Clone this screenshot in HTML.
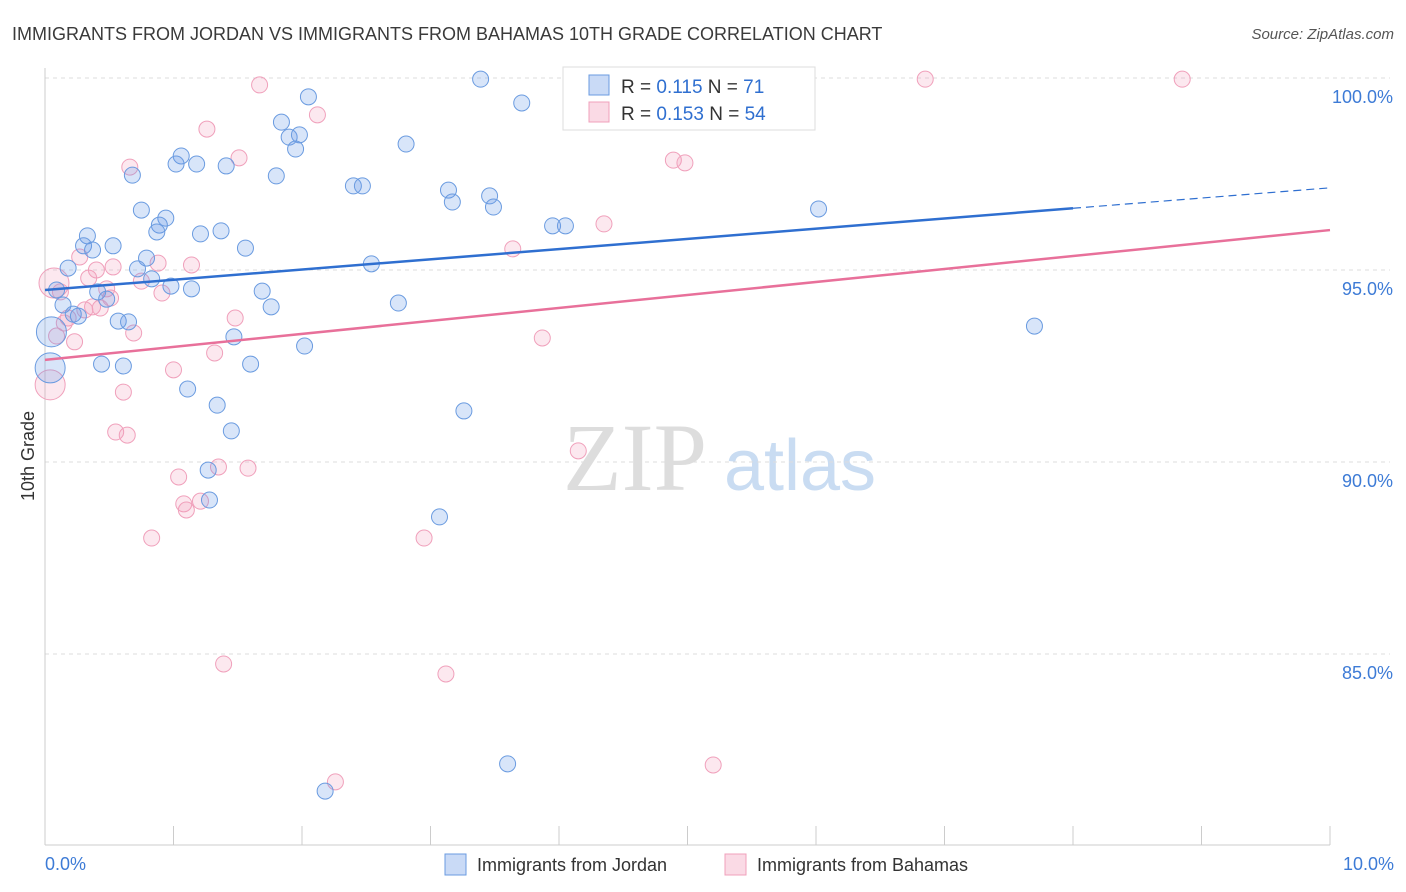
<!DOCTYPE html>
<html><head><meta charset="utf-8">
<style>
body{margin:0;background:#fff;font-family:"Liberation Sans",sans-serif;}
svg{display:block}
</style></head>
<body>
<svg id="chart" width="1406" height="892">
<text x="12" y="40" font-size="18" fill="#3a3a3a">IMMIGRANTS FROM JORDAN VS IMMIGRANTS FROM BAHAMAS 10TH GRADE CORRELATION CHART</text>
<text x="1394" y="39" font-size="15" fill="#555" text-anchor="end" font-style="italic">Source: ZipAtlas.com</text>
<text x="34" y="456" font-size="18" fill="#333" text-anchor="middle" transform="rotate(-90 34 456)">10th Grade</text>
<g>
<text x="635" y="490" font-size="96" fill="#ddd" text-anchor="middle" font-family="Liberation Serif,serif">ZIP</text>
<text x="800" y="490" font-size="72" fill="#c9dcf2" text-anchor="middle">atlas</text>
</g>
<g id="grid"></g>
<g id="pts"></g>
<g id="lines"></g>
<g>
<rect x="563" y="67" width="252" height="63" fill="#fff" stroke="#ddd"/>
<rect x="589" y="75" width="20" height="20" fill="rgba(100,150,230,0.35)" stroke="#6a9be0"/>
<rect x="589" y="102" width="20" height="20" fill="rgba(240,150,180,0.35)" stroke="#f0a0bb"/>
<text x="621" y="93" font-size="19" fill="#333">R = <tspan fill="#2f6fd0">0.115</tspan>   N = <tspan fill="#2f6fd0"> 71</tspan></text>
<text x="621" y="120" font-size="19" fill="#333">R = <tspan fill="#2f6fd0">0.153</tspan>   N = <tspan fill="#2f6fd0">54</tspan></text>
</g>
<g>
<rect x="445" y="854" width="21" height="21" fill="rgba(100,150,230,0.35)" stroke="#6a9be0"/>
<text x="477" y="871" font-size="18" fill="#333">Immigrants from Jordan</text>
<rect x="725" y="854" width="21" height="21" fill="rgba(240,150,180,0.35)" stroke="#f0a0bb"/>
<text x="757" y="871" font-size="18" fill="#333">Immigrants from Bahamas</text>
</g>
</svg>
<script>
const yTicks=[100,95,90,85];
const xTickLabels=["0.0%","10.0%"];
const blueX=[3.39,3.71,2.05,1.84,1.90,1.98,1.95,2.81,1.06,1.02,1.18,1.41,0.68,1.80,2.40,2.47,3.14,3.17,3.46,3.49,6.02,0.75,0.94,0.89,0.87,1.21,1.37,3.95,4.05,0.33,0.53,0.30,0.37,1.56,0.79,0.18,0.72,0.83,2.54,0.09,0.98,1.14,0.41,0.48,1.69,0.14,0.22,0.26,1.76,2.75,0.57,0.65,1.47,2.02,7.70,0.05,0.44,0.61,1.60,0.04,1.11,1.34,3.26,1.45,1.27,1.28,3.07,3.60,2.18];
const blueY=[99.97,99.35,99.51,98.85,98.46,98.52,98.15,98.28,97.97,97.76,97.76,97.71,97.47,97.45,97.19,97.19,97.08,96.77,96.93,96.64,96.59,96.56,96.35,96.17,95.99,95.94,96.02,96.15,96.15,95.89,95.63,95.63,95.52,95.57,95.31,95.05,95.03,94.77,95.16,94.48,94.58,94.51,94.43,94.24,94.45,94.09,93.85,93.80,94.04,94.14,93.67,93.65,93.26,93.02,93.54,93.39,92.55,92.50,92.55,92.45,91.90,91.48,91.33,90.81,89.79,89.01,88.57,82.14,81.43];
const blueBig=[55,59];
const pinkX=[1.67,6.85,8.85,2.12,1.26,1.51,0.66,4.89,4.98,4.35,3.64,0.27,0.88,1.14,0.53,0.07,0.40,0.34,0.75,0.12,0.91,0.48,0.51,0.37,0.43,0.31,0.18,0.15,1.48,0.69,0.09,0.23,3.87,1.32,1.00,0.04,0.61,0.55,0.64,4.15,1.58,1.35,1.04,1.08,1.10,1.21,0.83,2.95,1.39,3.12,5.20,2.26];
const pinkY=[99.82,99.97,99.97,99.04,98.67,97.92,97.68,97.86,97.79,96.20,95.55,95.34,95.18,95.13,95.08,94.66,95.0,94.79,94.71,94.43,94.40,94.51,94.27,94.04,94.01,93.96,93.75,93.62,93.75,93.36,93.28,93.13,93.23,92.84,92.40,92.01,91.82,90.78,90.70,90.29,89.84,89.87,89.61,88.91,88.75,88.98,88.02,88.02,84.74,84.48,82.11,81.67];
const pinkBig=[15,35];
const blueTrend=[94.48,97.14];
const pinkTrend=[92.66,96.04];
const blueSolidEnd=8.0;
const NS="http://www.w3.org/2000/svg";
const X0=45,X1=1330,Y100=78,PX5=192;
const sx=v=>X0+(X1-X0)*v/10;
const sy=v=>Y100+(100-v)*PX5/5;
function mk(tag,attrs,parent){const e=document.createElementNS(NS,tag);for(const k in attrs)e.setAttribute(k,attrs[k]);parent.appendChild(e);return e;}
const grid=document.getElementById('grid');
yTicks.forEach(t=>{
 const l=mk('line',{x1:X0,x2:X1+60,y1:sy(t),y2:sy(t),stroke:'#ddd','stroke-dasharray':'4,4'},grid);
 
 
 const tx=mk('text',{x:1393,y:sy(t)+25,'font-size':18,fill:'#3d7bd6','text-anchor':'end'},grid);
 tx.textContent=t.toFixed(1)+'%';
 
 
});
const ax=mk('line',{x1:X0,x2:X1,y1:845,y2:845,stroke:'#ccc'},grid);


const ay=mk('line',{x1:X0,x2:X0,y1:68,y2:845,stroke:'#ccc'},grid);


for(let i=0;i<=10;i++){
 const t=mk('line',{x1:sx(i),x2:sx(i),y1:826,y2:845,stroke:'#ccc'},grid);
 
 
}
const xl0=mk('text',{x:45,y:870,'font-size':18,fill:'#3d7bd6'},grid);
xl0.textContent=xTickLabels[0];


const xl1=mk('text',{x:1394,y:870,'font-size':18,fill:'#3d7bd6','text-anchor':'end'},grid);
xl1.textContent=xTickLabels[1];


const pts=document.getElementById('pts');
function series(xs,ys,big,fill,stroke,name){
 xs.forEach((x,i)=>{
  const r=big.includes(i)?15:8;
  const c=mk('circle',{cx:sx(x),cy:sy(ys[i]),r:r,fill:fill,stroke:stroke,'stroke-width':1},pts);
  
  
 });
}
series(pinkX,pinkY,pinkBig,'rgba(240,150,180,0.22)','#f0a0bb','bahamas');
series(blueX,blueY,blueBig,'rgba(100,150,230,0.25)','#6a9be0','jordan');
const lines=document.getElementById('lines');
const by=x=>blueTrend[0]+(blueTrend[1]-blueTrend[0])*x/10;
const py=x=>pinkTrend[0]+(pinkTrend[1]-pinkTrend[0])*x/10;
const pl=mk('line',{x1:sx(0),y1:sy(py(0)),x2:sx(10),y2:sy(py(10)),stroke:'#e8709a','stroke-width':2.5},lines);


const bl=mk('line',{x1:sx(0),y1:sy(by(0)),x2:sx(blueSolidEnd),y2:sy(by(blueSolidEnd)),stroke:'#2f6fd0','stroke-width':2.5},lines);


const bd=mk('line',{x1:sx(blueSolidEnd),y1:sy(by(blueSolidEnd)),x2:sx(10),y2:sy(by(10)),stroke:'#2f6fd0','stroke-width':1.2,'stroke-dasharray':'8,5'},lines);


</script>
</body></html>
